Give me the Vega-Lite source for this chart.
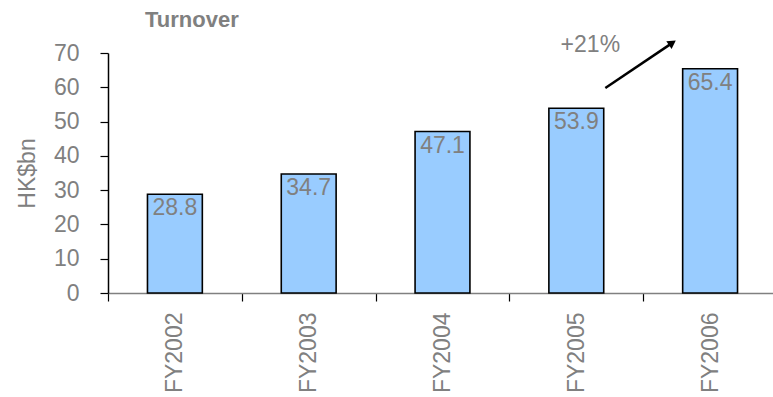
{
  "$schema": "https://vega.github.io/schema/vega-lite/v6.json",
  "width": 669,
  "height": 240,
  "autosize": {"type": "none"},
  "padding": {"left": 108, "top": 53, "right": 0, "bottom": 104},
  "background": "white",
  "title": {
    "text": "Turnover",
    "anchor": "start",
    "frame": "group",
    "dx": 37,
    "offset": 2,
    "font": "Liberation Sans",
    "fontSize": 22,
    "fontWeight": "bold",
    "color": "#808080"
  },
  "datasets": {
    "bars": [
      {"year": "FY2002", "value": 28.8},
      {"year": "FY2003", "value": 34.7},
      {"year": "FY2004", "value": 47.1},
      {"year": "FY2005", "value": 53.9},
      {"year": "FY2006", "value": 65.4}
    ],
    "arrow": [
      {"x0": 3.717, "value": 59.8, "x1": 4.218, "value2": 72.95}
    ],
    "note": [
      {"x": 3.605, "value": 70.3, "label": "+21%"}
    ]
  },
  "config": {
    "view": {"stroke": null},
    "font": "Liberation Sans"
  },
  "encoding": {
    "y": {
      "field": "value",
      "type": "quantitative",
      "scale": {"domain": [0, 70], "nice": false, "zero": true},
      "axis": {
        "title": "HK$bn",
        "values": [0, 10, 20, 30, 40, 50, 60, 70],
        "labelOverlap": false,
        "labelFlush": false,
        "grid": false,
        "labelFont": "Liberation Sans",
        "labelFontSize": 23,
        "labelColor": "#808080",
        "labelPadding": 21,
        "tickColor": "#000000",
        "tickSize": 8,
        "tickWidth": 1.2,
        "domainColor": "#000000",
        "domainWidth": 1.5,
        "titleFont": "Liberation Sans",
        "titleFontSize": 23,
        "titleFontWeight": "normal",
        "titleColor": "#808080",
        "titleAngle": -90,
        "titleX": -81,
        "titleY": 120,
        "titleAlign": "center",
        "titleBaseline": "middle"
      }
    }
  },
  "layer": [
    {
      "data": {"name": "bars"},
      "encoding": {
        "x": {
          "field": "year",
          "type": "nominal",
          "scale": {"type": "band", "paddingInner": 0, "paddingOuter": 0},
          "axis": {
            "title": null,
            "labelAngle": -90,
            "labelAlign": "right",
            "labelBaseline": "middle",
            "labelFont": "Liberation Sans",
            "labelFontSize": 23,
            "labelColor": "#808080",
            "labelPadding": 11,
            "tickBand": "extent",
            "tickColor": "#000000",
            "tickSize": 8,
            "tickWidth": 1.2,
            "domainColor": "#808080",
            "domainWidth": 1.5
          }
        }
      },
      "layer": [
        {
          "mark": {"type": "bar", "color": "#99CCFF", "stroke": "#000000", "strokeWidth": 1.6, "width": {"band": 0.41}}
        },
        {
          "mark": {"type": "text", "baseline": "top", "dy": 3, "fontSize": 23, "font": "Liberation Sans", "color": "#808080"},
          "encoding": {
            "text": {"field": "value", "type": "quantitative", "format": ".1f"}
          }
        }
      ]
    },
    {
      "data": {"name": "arrow"},
      "mark": {"type": "rule", "color": "#000000", "strokeWidth": 2.5},
      "encoding": {
        "x": {"field": "x0", "type": "quantitative", "scale": {"domain": [0, 5], "nice": false, "zero": false}, "axis": null},
        "x2": {"field": "x1"},
        "y2": {"field": "value2"}
      }
    },
    {
      "data": {"name": "arrow"},
      "mark": {"type": "point", "shape": "triangle-up", "filled": true, "color": "#000000", "size": 90, "angle": 56, "opacity": 1},
      "encoding": {
        "x": {"field": "x1", "type": "quantitative", "scale": {"domain": [0, 5], "nice": false, "zero": false}, "axis": null},
        "y": {"field": "value2", "type": "quantitative"}
      }
    },
    {
      "data": {"name": "note"},
      "mark": {"type": "text", "baseline": "alphabetic", "align": "center", "fontSize": 23, "font": "Liberation Sans", "color": "#808080"},
      "encoding": {
        "x": {"field": "x", "type": "quantitative", "scale": {"domain": [0, 5], "nice": false, "zero": false}, "axis": null},
        "text": {"field": "label", "type": "nominal"}
      }
    }
  ],
  "resolve": {"scale": {"x": "independent"}}
}
